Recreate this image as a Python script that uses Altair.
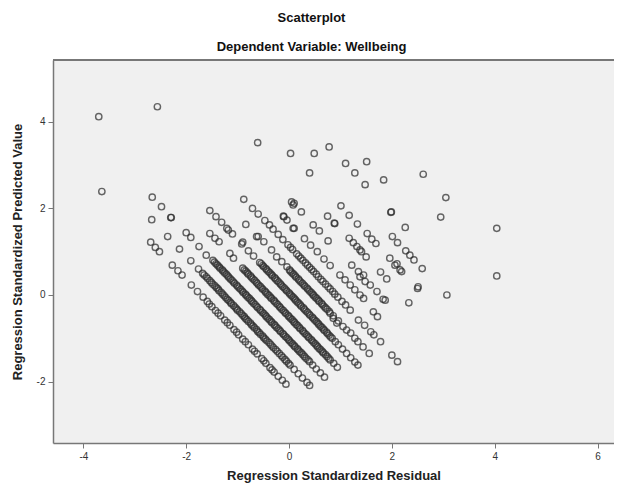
import altair as alt
import pandas as pd

# Residual (x) / predicted (y) pairs, read band by band (each band = one observed Wellbeing value)
band0 = [(-3.64, 2.39), (-2.69, 1.22), (-2.60, 1.10), (-2.52, 1.00), (-2.27, 0.69), (-2.16, 0.56),
         (-2.08, 0.46), (-1.90, 0.23), (-1.78, 0.08), (-1.67, -0.05), (-1.59, -0.15), (-1.50, -0.27),
         (-1.43, -0.36), (-1.33, -0.48), (-1.25, -0.58), (-1.15, -0.70), (-1.07, -0.80), (-0.98, -0.92),
         (-0.90, -1.02), (-0.79, -1.15), (-0.71, -1.25), (-0.62, -1.36), (-0.53, -1.47), (-0.45, -1.58),
         (-0.37, -1.68), (-0.29, -1.78), (-0.21, -1.88), (-0.13, -1.97), (-0.06, -2.06),
         (-1.55, -0.21), (-1.38, -0.42), (-1.20, -0.64), (-1.02, -0.86), (-0.85, -1.08), (-0.67, -1.30),
         (-0.49, -1.52), (-0.33, -1.73)]

band1 = [(-2.67, 1.74), (-2.36, 1.35), (-2.13, 1.06), (-1.91, 0.79), (-1.76, 0.60), (-1.68, 0.50),
         (-1.61, 0.42), (-1.54, 0.33), (-1.48, 0.25), (-1.41, 0.17), (-1.36, 0.10), (-1.29, 0.02),
         (-1.23, -0.06), (-1.17, -0.13), (-1.12, -0.20), (-1.05, -0.28), (-1.00, -0.35), (-0.93, -0.43),
         (-0.87, -0.50), (-0.82, -0.57), (-0.75, -0.65), (-0.70, -0.72), (-0.63, -0.80), (-0.58, -0.87),
         (-0.51, -0.95), (-0.46, -1.02), (-0.39, -1.10), (-0.33, -1.18), (-0.26, -1.26), (-0.19, -1.35),
         (-0.12, -1.44), (-0.05, -1.53), (0.02, -1.62), (0.10, -1.72), (0.18, -1.82), (0.26, -1.92),
         (0.35, -2.02), (0.40, -2.09),
         (-1.65, 0.46), (-1.58, 0.38), (-1.51, 0.29), (-1.44, 0.21), (-1.38, 0.14), (-1.32, 0.06),
         (-1.26, -0.02), (-1.20, -0.10), (-1.14, -0.17), (-1.08, -0.24), (-1.02, -0.32), (-0.96, -0.39),
         (-0.90, -0.47), (-0.85, -0.54), (-0.79, -0.61), (-0.73, -0.69), (-0.67, -0.76), (-0.61, -0.84),
         (-0.55, -0.91), (-0.49, -0.99), (-0.43, -1.06), (-0.36, -1.14), (-0.30, -1.22), (-0.23, -1.30),
         (-0.15, -1.40), (-0.08, -1.49), (-0.01, -1.58)]

band2 = [(-2.66, 2.26), (-2.48, 2.04), (-2.30, 1.79), (-2.29, 1.79), (-2.00, 1.44), (-1.91, 1.33),
         (-1.75, 1.12), (-1.61, 0.92), (-1.48, 0.80), (-1.42, 0.72), (-1.36, 0.65), (-1.30, 0.58),
         (-1.25, 0.51), (-1.19, 0.44), (-1.14, 0.37), (-1.08, 0.30), (-1.02, 0.23), (-0.97, 0.16),
         (-0.91, 0.09), (-0.85, 0.02), (-0.80, -0.05), (-0.74, -0.12), (-0.69, -0.19), (-0.63, -0.26),
         (-0.57, -0.33), (-0.52, -0.40), (-0.46, -0.47), (-0.41, -0.54), (-0.35, -0.61), (-0.29, -0.68),
         (-0.24, -0.75), (-0.18, -0.82), (-0.12, -0.89), (-0.07, -0.96), (-0.01, -1.03), (0.04, -1.10),
         (0.10, -1.17), (0.16, -1.24), (0.21, -1.31), (0.27, -1.38), (0.33, -1.46), (0.40, -1.54),
         (0.46, -1.62), (0.53, -1.71), (0.61, -1.80), (0.69, -1.90),
         (-1.45, 0.76), (-1.39, 0.69), (-1.34, 0.62), (-1.28, 0.55), (-1.22, 0.48), (-1.17, 0.41),
         (-1.11, 0.34), (-1.06, 0.27), (-1.00, 0.20), (-0.94, 0.13), (-0.89, 0.06), (-0.83, -0.01),
         (-0.77, -0.08), (-0.72, -0.15), (-0.66, -0.22), (-0.61, -0.29), (-0.55, -0.36), (-0.49, -0.43),
         (-0.44, -0.50), (-0.38, -0.57), (-0.33, -0.64), (-0.27, -0.71), (-0.21, -0.78), (-0.16, -0.85),
         (-0.10, -0.92), (-0.04, -0.99), (0.01, -1.06), (0.07, -1.13), (0.12, -1.20), (0.18, -1.27),
         (0.24, -1.34), (0.30, -1.42), (0.37, -1.50)]

band3 = [(-3.70, 4.12), (-1.54, 1.42), (-1.44, 1.31), (-1.36, 1.23), (-1.15, 0.96), (-1.08, 0.85),
         (-0.90, 0.62), (-0.84, 0.55), (-0.79, 0.48), (-0.73, 0.41), (-0.67, 0.34), (-0.62, 0.27),
         (-0.56, 0.20), (-0.51, 0.13), (-0.45, 0.06), (-0.39, -0.01), (-0.34, -0.08), (-0.28, -0.15),
         (-0.22, -0.22), (-0.17, -0.29), (-0.11, -0.36), (-0.06, -0.43), (0.00, -0.50), (0.06, -0.57),
         (0.11, -0.64), (0.17, -0.71), (0.22, -0.78), (0.28, -0.85), (0.34, -0.92), (0.39, -0.99),
         (0.45, -1.06), (0.51, -1.13), (0.56, -1.20), (0.62, -1.27), (0.67, -1.34), (0.74, -1.42),
         (0.80, -1.50), (0.87, -1.58), (0.94, -1.67),
         (-0.87, 0.58), (-0.81, 0.51), (-0.75, 0.44), (-0.70, 0.37), (-0.64, 0.30), (-0.59, 0.23),
         (-0.53, 0.16), (-0.47, 0.09), (-0.42, 0.02), (-0.36, -0.05), (-0.30, -0.12), (-0.25, -0.19),
         (-0.19, -0.26), (-0.14, -0.33), (-0.08, -0.40), (-0.02, -0.47), (0.03, -0.54), (0.09, -0.61),
         (0.14, -0.68), (0.20, -0.75), (0.26, -0.82), (0.31, -0.89), (0.37, -0.96), (0.43, -1.03),
         (0.48, -1.10), (0.54, -1.17), (0.59, -1.24), (0.65, -1.31), (0.71, -1.38), (0.77, -1.46)]

band4 = [(-1.54, 1.95), (-1.42, 1.81), (-1.31, 1.68), (-1.21, 1.54), (-1.18, 1.50), (-1.10, 1.41),
         (-0.92, 1.18), (-0.90, 1.22), (-0.79, 1.02), (-0.69, 0.90), (-0.57, 0.75), (-0.51, 0.68),
         (-0.45, 0.61), (-0.40, 0.54), (-0.34, 0.47), (-0.28, 0.40), (-0.23, 0.33), (-0.17, 0.26),
         (-0.12, 0.19), (-0.06, 0.12), (0.00, 0.05), (0.05, -0.02), (0.11, -0.09), (0.16, -0.16),
         (0.22, -0.23), (0.28, -0.30), (0.33, -0.37), (0.39, -0.44), (0.45, -0.51), (0.50, -0.58),
         (0.56, -0.65), (0.61, -0.72), (0.67, -0.79), (0.73, -0.86), (0.78, -0.93), (0.84, -1.00),
         (0.90, -1.08), (0.96, -1.15), (1.04, -1.25), (1.12, -1.35), (1.20, -1.45), (1.28, -1.55),
         (1.34, -1.62),
         (-0.54, 0.72), (-0.49, 0.65), (-0.43, 0.58), (-0.37, 0.51), (-0.32, 0.44), (-0.26, 0.37),
         (-0.20, 0.30), (-0.15, 0.23), (-0.09, 0.16), (-0.04, 0.09), (0.02, 0.02), (0.08, -0.05),
         (0.13, -0.12), (0.19, -0.19), (0.24, -0.26), (0.30, -0.33), (0.36, -0.40), (0.41, -0.47),
         (0.47, -0.54), (0.53, -0.61), (0.58, -0.68), (0.64, -0.75), (0.69, -0.82), (0.75, -0.89),
         (0.81, -0.97)]

band5 = [(-0.84, 1.63), (-0.63, 1.35), (-0.60, 1.35), (-0.49, 1.23), (-0.34, 1.04), (-0.24, 0.88),
         (-0.14, 0.77), (-0.04, 0.65), (0.01, 0.58), (0.06, 0.51), (0.12, 0.44), (0.18, 0.37),
         (0.23, 0.30), (0.29, 0.23), (0.35, 0.16), (0.40, 0.09), (0.46, 0.02), (0.51, -0.05),
         (0.57, -0.12), (0.63, -0.19), (0.68, -0.26), (0.74, -0.33), (0.80, -0.42), (0.86, -0.54),
         (0.93, -0.65), (1.05, -0.73), (1.12, -0.81), (1.20, -0.88), (1.28, -1.00), (1.34, -1.08),
         (1.44, -1.20), (1.56, -1.35),
         (0.03, 0.55), (0.09, 0.48), (0.14, 0.41), (0.20, 0.34), (0.26, 0.27), (0.31, 0.20),
         (0.37, 0.13), (0.43, 0.06), (0.48, -0.01), (0.54, -0.08), (0.59, -0.15), (0.65, -0.22),
         (0.71, -0.30), (0.78, -0.38), (0.86, -0.48), (0.96, -0.60)]

band6 = [(-2.56, 4.35), (-0.88, 2.21), (-0.71, 2.00), (-0.60, 1.87), (-0.47, 1.72), (-0.38, 1.62),
         (-0.31, 1.52), (-0.21, 1.40), (-0.12, 1.28), (-0.02, 1.16), (0.07, 1.05), (0.15, 0.95),
         (0.23, 0.85), (0.32, 0.74), (0.40, 0.64), (0.48, 0.54), (0.57, 0.42), (0.66, 0.31),
         (0.76, 0.19), (0.85, 0.08), (0.95, -0.05), (1.10, -0.23), (1.19, -0.35), (1.35, -0.58),
         (1.47, -0.70), (1.59, -0.85), (1.65, -0.92), (1.78, -1.08), (2.00, -1.39), (2.11, -1.54),
         (0.03, 1.10), (0.19, 0.90), (0.27, 0.80), (0.36, 0.69), (0.44, 0.59), (0.53, 0.48),
         (0.62, 0.36), (0.71, 0.25), (0.80, 0.14), (0.89, 0.02), (1.03, -0.15)]

band7 = [(-0.11, 1.82), (-0.10, 1.81), (-0.04, 1.73), (0.08, 1.54), (0.10, 1.54), (0.30, 1.30),
         (0.42, 1.15), (0.55, 1.00), (0.68, 0.83), (0.80, 0.68), (0.99, 0.46), (1.09, 0.35),
         (1.19, 0.23), (1.28, 0.12), (1.38, 0.00), (1.45, -0.08), (1.64, -0.39), (1.72, -0.50)]

band8 = [(0.05, 2.15), (0.08, 2.08), (0.10, 2.12), (0.24, 1.92), (0.47, 1.62), (0.59, 1.48),
         (0.76, 1.25), (1.22, 0.69), (1.35, 0.54), (1.45, 0.46), (1.38, 0.42), (1.48, 0.31),
         (1.58, 0.23), (1.71, 0.08), (1.83, -0.10), (1.87, -0.12)]

band9 = [(-0.61, 3.52), (0.75, 1.82), (0.89, 1.65), (0.88, 1.66), (1.17, 1.31), (1.25, 1.21),
         (1.32, 1.12), (1.41, 1.00), (1.50, 0.88), (1.38, 1.04), (1.78, 0.53), (1.90, 0.37), (2.33, -0.18)]

band10 = [(0.03, 3.27), (0.40, 2.82), (1.01, 2.06), (1.17, 1.84), (1.33, 1.64), (1.52, 1.42),
          (1.61, 1.29), (1.69, 1.19), (1.96, 0.85), (2.10, 0.72), (2.19, 0.54), (2.06, 0.69),
          (2.16, 0.58), (2.51, 0.19), (2.50, 0.15)]

band11 = [(0.49, 3.27), (2.01, 1.35), (2.11, 1.21), (2.27, 1.02), (2.35, 0.92), (2.43, 0.81),
          (2.59, 0.61), (3.07, 0.00)]

band12 = [(0.78, 3.42), (1.10, 3.04), (1.28, 2.82), (1.48, 2.55), (1.99, 1.92), (1.98, 1.91), (2.26, 1.56)]

outer = [(1.51, 3.08), (1.84, 2.66), (2.61, 2.79), (3.05, 2.25), (2.95, 1.80), (4.04, 1.54), (4.04, 0.44)]

bands = [band0, band1, band2, band3, band4, band5, band6, band7, band8, band9, band10, band11, band12, outer]

x_ticks = [-4, -2, 0, 2, 4, 6]
y_ticks = [-2, 0, 2, 4]
x_domain = [-4.59, 6.32]
y_domain = [-3.42, 5.43]

rows = [{"resid": x, "pred": y} for band in bands for (x, y) in band]
df = pd.DataFrame(rows)

FONT = "Arial, Liberation Sans, sans-serif"
FRAME = "#777777"
W, H = 561, 383

points = alt.Chart(df).mark_point(
    shape="circle", filled=False, size=40, strokeWidth=1.4,
    color="#2e2e2e", opacity=0.72
).encode(
    x=alt.X("resid:Q", scale=alt.Scale(domain=x_domain, nice=False, zero=False),
            axis=alt.Axis(values=x_ticks, title="Regression Standardized Residual",
                          labelExpr="'' + datum.value")),
    y=alt.Y("pred:Q", scale=alt.Scale(domain=y_domain, nice=False, zero=False),
            axis=alt.Axis(values=y_ticks, title="Regression Standardized Predicted Value",
                          labelExpr="'' + datum.value")),
)

top_line = alt.Chart(df).mark_rule(color=FRAME, strokeWidth=1.5).encode(
    x=alt.value(0), x2=alt.value(W), y=alt.value(0)
)

chart = alt.layer(points, top_line).properties(
    width=W, height=H,
    autosize=alt.AutoSizeParams(type="none"),
    padding={"left": 45, "top": 52, "right": 0, "bottom": 42},
    title=alt.TitleParams(
        text="Scatterplot", subtitle="Dependent Variable: Wellbeing",
        anchor="middle", dx=-22, offset=5, subtitlePadding=16,
        font=FONT, fontSize=13, fontWeight="bold", color="#111",
        subtitleFont=FONT, subtitleFontSize=13, subtitleFontWeight="bold", subtitleColor="#111",
    ),
).configure_view(
    fill="#f0f0f0", stroke=None
).configure_axis(
    grid=False, domainColor=FRAME, domainWidth=1.5, tickColor=FRAME, tickSize=5,
    labelFont=FONT, labelFontSize=10, labelColor="#333", labelPadding=3,
    titleFont=FONT, titleFontSize=13, titleFontWeight="bold", titleColor="#222",
).configure_axisY(titlePadding=12).configure_axisX(titlePadding=8)

chart.save("out.html", embed_options={"renderer": "svg", "actions": False})
